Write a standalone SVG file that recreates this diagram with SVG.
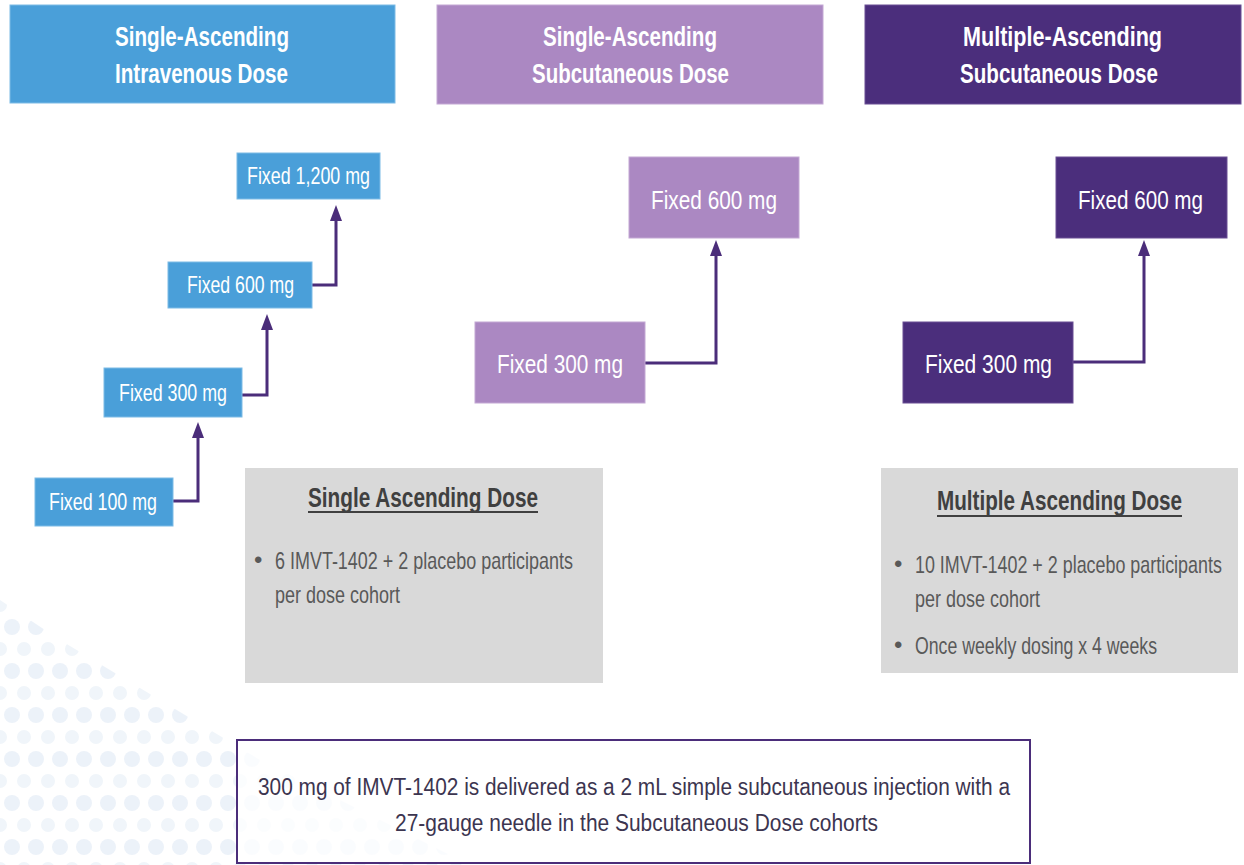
<svg xmlns="http://www.w3.org/2000/svg" width="1244" height="865" viewBox="0 0 1244 865">
  <defs>
    <style>
      text { font-family: "Liberation Sans", Arial, sans-serif; }
      .hdr { fill: #ffffff; font-weight: bold; font-size: 28px; }
      .nodeS { fill: #ffffff; font-size: 24px; }
      .nodeL { fill: #ffffff; font-size: 26px; }
      .blue { fill: #4A9FD9; stroke: #7DBBE6; stroke-width: 1; }
      .lilac { fill: #AB88C2; stroke: #C3A8D4; stroke-width: 1; }
      .plum { fill: #4B2E7C; stroke: #6A4F94; stroke-width: 1; }
      .gray { fill: #D9D9D9; }
      .ttl { fill: #404040; font-weight: bold; font-size: 28px; }
      .bul { fill: #595959; font-size: 24px; }
      .note { fill: #3C3550; font-size: 23px; }
      .conn { fill: none; stroke: #4B2D7A; stroke-width: 3; }
      .uline { stroke: #404040; stroke-width: 2; }
    </style>
    <marker id="arr" markerUnits="userSpaceOnUse" viewBox="0 0 16 12" markerWidth="16" markerHeight="12" refX="8" refY="6" orient="auto">
      <path d="M0,0 L16,6 L0,12 z" fill="#4B2D7A"/>
    </marker>
    <pattern id="dots" patternUnits="userSpaceOnUse" width="24" height="44">
      <circle cx="12" cy="11" r="8" fill="#E9F0F8"/>
      <circle cx="0" cy="33" r="7" fill="#EDF3F9"/>
      <circle cx="24" cy="33" r="7" fill="#EDF3F9"/>
    </pattern>
  </defs>

  <rect x="0" y="0" width="1244" height="865" fill="#ffffff"/>

  <!-- decorative background dots -->
  <g id="background-dots" opacity="0.85">
    <polygon points="0,600 60,640 160,700 260,760 470,865 0,865" fill="url(#dots)"/>
  </g>

  <!-- headers -->
  <g id="hdr-iv">
    <rect class="blue" x="10" y="5" width="385" height="98"/>
    <text class="hdr" x="115" y="46" textLength="174" lengthAdjust="spacingAndGlyphs">Single-Ascending</text>
    <text class="hdr" x="115" y="83" textLength="173" lengthAdjust="spacingAndGlyphs">Intravenous Dose</text>
  </g>
  <g id="hdr-sc">
    <rect class="lilac" x="437" y="5" width="386" height="99"/>
    <text class="hdr" x="543" y="46" textLength="174" lengthAdjust="spacingAndGlyphs">Single-Ascending</text>
    <text class="hdr" x="532" y="83" textLength="197" lengthAdjust="spacingAndGlyphs">Subcutaneous Dose</text>
  </g>
  <g id="hdr-mad">
    <rect class="plum" x="865" y="5" width="376" height="99"/>
    <text class="hdr" x="963" y="46" textLength="199" lengthAdjust="spacingAndGlyphs">Multiple-Ascending</text>
    <text class="hdr" x="960" y="83" textLength="198" lengthAdjust="spacingAndGlyphs">Subcutaneous Dose</text>
  </g>

  <!-- connectors -->
  <g id="connectors">
    <path class="conn" d="M173,501 H198 V430" marker-end="url(#arr)"/>
    <path class="conn" d="M242,395 H267 V322" marker-end="url(#arr)"/>
    <path class="conn" d="M312,285 H336 V213" marker-end="url(#arr)"/>
    <path class="conn" d="M645,363 H716 V248" marker-end="url(#arr)"/>
    <path class="conn" d="M1073,362 H1144 V248" marker-end="url(#arr)"/>
  </g>

  <!-- IV staircase -->
  <g id="iv-1200">
    <rect class="blue" x="237" y="153" width="143" height="46"/>
    <text class="nodeS" x="247" y="184" textLength="123" lengthAdjust="spacingAndGlyphs">Fixed 1,200 mg</text>
  </g>
  <g id="iv-600">
    <rect class="blue" x="168" y="262" width="144" height="46"/>
    <text class="nodeS" x="187" y="293" textLength="107" lengthAdjust="spacingAndGlyphs">Fixed 600 mg</text>
  </g>
  <g id="iv-300">
    <rect class="blue" x="104" y="368" width="138" height="49"/>
    <text class="nodeS" x="119" y="401" textLength="108" lengthAdjust="spacingAndGlyphs">Fixed 300 mg</text>
  </g>
  <g id="iv-100">
    <rect class="blue" x="35" y="478" width="138" height="48"/>
    <text class="nodeS" x="49" y="510" textLength="108" lengthAdjust="spacingAndGlyphs">Fixed 100 mg</text>
  </g>

  <!-- SC single -->
  <g id="sc-600">
    <rect class="lilac" x="629" y="157" width="170" height="81"/>
    <text class="nodeL" x="651" y="209" textLength="126" lengthAdjust="spacingAndGlyphs">Fixed 600 mg</text>
  </g>
  <g id="sc-300">
    <rect class="lilac" x="475" y="322" width="170" height="81"/>
    <text class="nodeL" x="497" y="373" textLength="126" lengthAdjust="spacingAndGlyphs">Fixed 300 mg</text>
  </g>

  <!-- SC multiple -->
  <g id="mad-600">
    <rect class="plum" x="1056" y="157" width="171" height="81"/>
    <text class="nodeL" x="1078" y="209" textLength="125" lengthAdjust="spacingAndGlyphs">Fixed 600 mg</text>
  </g>
  <g id="mad-300">
    <rect class="plum" x="903" y="322" width="170" height="81"/>
    <text class="nodeL" x="925" y="373" textLength="127" lengthAdjust="spacingAndGlyphs">Fixed 300 mg</text>
  </g>

  <!-- info boxes -->
  <g id="sad-info">
    <rect class="gray" x="245" y="468" width="358" height="215"/>
    <text class="ttl" x="308" y="507" textLength="230" lengthAdjust="spacingAndGlyphs">Single Ascending Dose</text>
    <line class="uline" x1="308" y1="512" x2="538" y2="512"/>
    <text class="bul" x="254" y="568">•</text>
    <text class="bul" x="275" y="569" textLength="298" lengthAdjust="spacingAndGlyphs">6 IMVT-1402 + 2 placebo participants</text>
    <text class="bul" x="275" y="603" textLength="125" lengthAdjust="spacingAndGlyphs">per dose cohort</text>
  </g>
  <g id="mad-info">
    <rect class="gray" x="881" y="468" width="357" height="205"/>
    <text class="ttl" transform="translate(937,510) scale(0.736,1)" x="0" y="0" textLength="333" lengthAdjust="spacingAndGlyphs">Multiple Ascending Dose</text>
    <line class="uline" x1="937" y1="516" x2="1182" y2="516"/>
    <text class="bul" x="894" y="572">•</text>
    <text class="bul" transform="translate(915,573) scale(0.743,1)" x="0" y="0" textLength="413" lengthAdjust="spacingAndGlyphs">10 IMVT-1402 + 2 placebo participants</text>
    <text class="bul" x="915" y="607" textLength="125" lengthAdjust="spacingAndGlyphs">per dose cohort</text>
    <text class="bul" x="894" y="653">•</text>
    <text class="bul" x="915" y="654" textLength="242" lengthAdjust="spacingAndGlyphs">Once weekly dosing x 4 weeks</text>
  </g>

  <!-- note box -->
  <g id="note">
    <rect x="237" y="740" width="793" height="123" fill="#ffffff" fill-opacity="0.75" stroke="#4B2D7A" stroke-width="2"/>
    <text class="note" x="258" y="795" textLength="752" lengthAdjust="spacingAndGlyphs">300 mg of IMVT-1402 is delivered as a 2 mL simple subcutaneous injection with a</text>
    <text class="note" x="395" y="831" textLength="483" lengthAdjust="spacingAndGlyphs">27-gauge needle in the Subcutaneous Dose cohorts</text>
  </g>
</svg>
